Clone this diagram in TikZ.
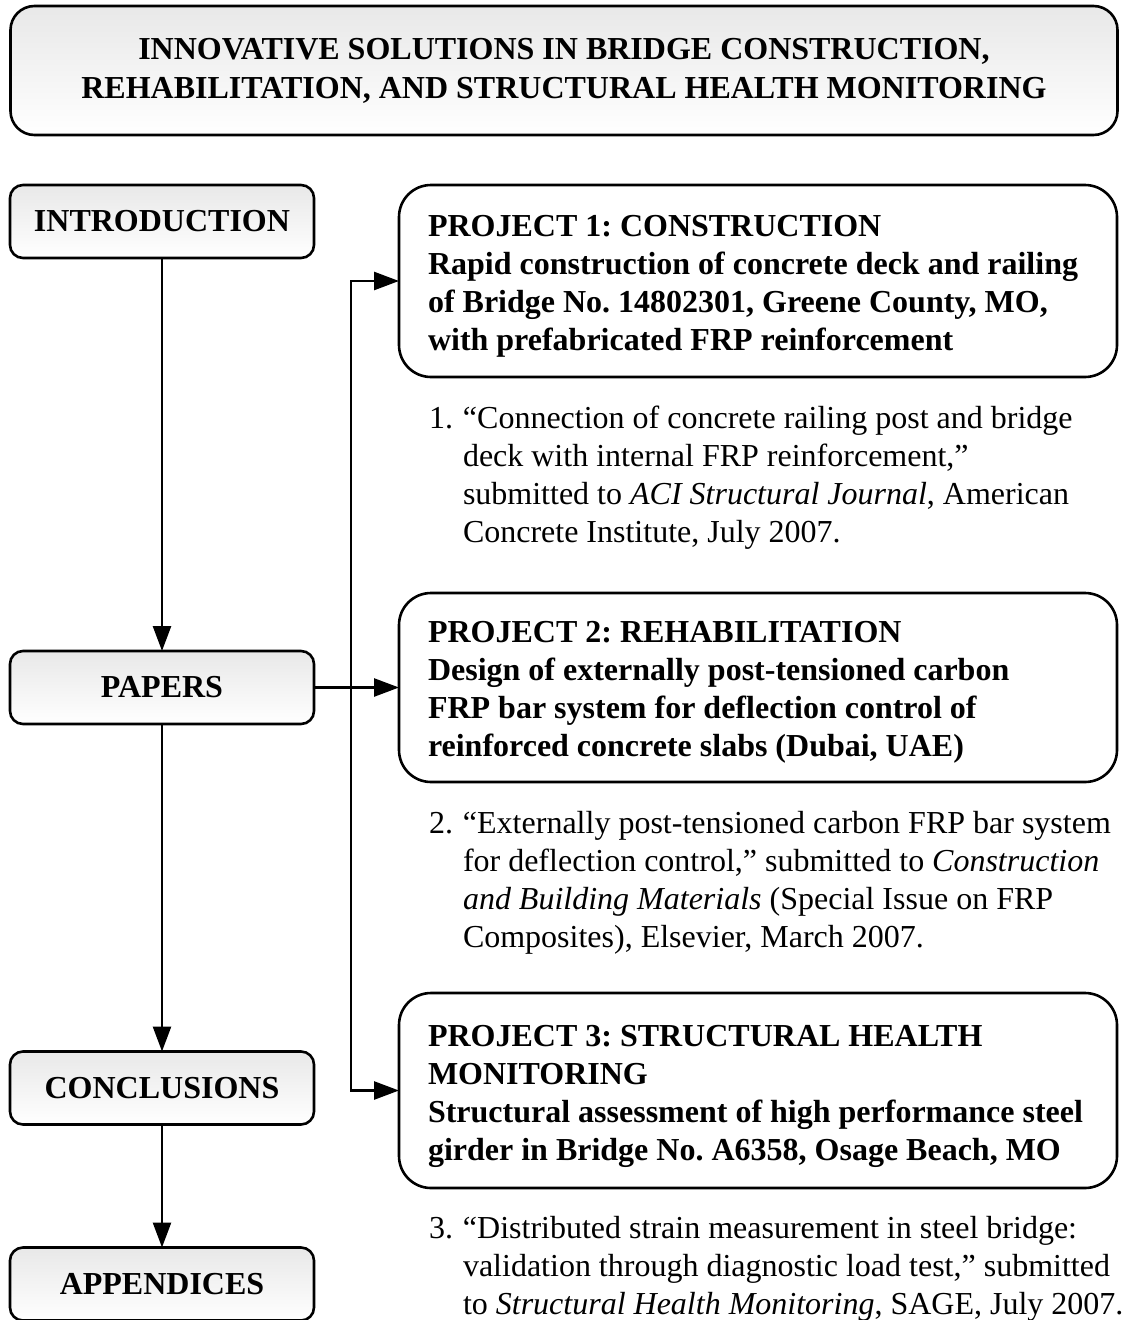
\documentclass[tikz,border=0pt]{standalone}
\usepackage{fontspec}
\setmainfont{Liberation Serif}
\usetikzlibrary{arrows.meta,shadings}
\frenchspacing
\begin{document}
\begin{tikzpicture}[x=1pt,y=-1pt,
  every node/.style={inner sep=0pt,outer sep=0pt},
  gradbox/.style={draw,line width=2.6pt,rounded corners=13pt,top color=black!9,bottom color=white,
    minimum width=304pt,minimum height=73pt,font=\fontsize{32}{38}\selectfont\bfseries},
  titlebox/.style={draw,line width=2.6pt,rounded corners=24pt,top color=black!9,bottom color=white,
    minimum width=1107pt,minimum height=129pt,align=center,font=\fontsize{32}{39}\selectfont\bfseries},
  projbox/.style={draw,line width=2.6pt,rounded corners=32pt,minimum width=718pt},
  projtext/.style={anchor=base west,font=\fontsize{32}{38}\selectfont\bfseries},
  itemtext/.style={anchor=base west,font=\fontsize{32}{38}\selectfont},
  tip/.tip={Triangle[length=25pt,width=18pt]},
  arr/.style={line width=2.6pt,-tip},
  darr/.style={line width=2.6pt,tip-tip}
]
\useasboundingbox (0,0) rectangle (1128,1320);

\node[titlebox] (title) at (564,70.5) {INNOVATIVE SOLUTIONS IN BRIDGE CONSTRUCTION,\\REHABILITATION, AND STRUCTURAL HEALTH MONITORING};

\node[gradbox] (intro) at (162,221.5) {INTRODUCTION};
\node[gradbox] (papers) at (162,687.5) {PAPERS};
\node[gradbox] (concl) at (162,1088) {CONCLUSIONS};
\node[gradbox] (app) at (162,1284) {APPENDICES};

\node[projbox,minimum height=192pt] (p1) at (758,281) {};
\node[projbox,minimum height=189pt] (p2) at (758,687.5) {};
\node[projbox,minimum height=195pt] (p3) at (758,1090.5) {};

\node[projtext] (p1t) at (428,236) {\begin{tabular}[t]{@{}l@{}}PROJECT 1: CONSTRUCTION\\
Rapid construction of concrete deck and railing\\
of Bridge No. 14802301, Greene County, MO,\\
with prefabricated FRP reinforcement\end{tabular}};

\node[projtext] (p2t) at (428,642) {\begin{tabular}[t]{@{}l@{}}PROJECT 2: REHABILITATION\\
Design of externally post-tensioned carbon\\
FRP bar system for deflection control of\\
reinforced concrete slabs (Dubai, UAE)\end{tabular}};

\node[projtext] (p3t) at (428,1046) {\begin{tabular}[t]{@{}l@{}}PROJECT 3: STRUCTURAL HEALTH\\
MONITORING\\
Structural assessment of high performance steel\\
girder in Bridge No. A6358, Osage Beach, MO\end{tabular}};

\node[itemtext] (i1) at (429,428) {\begin{tabular}[t]{@{}p{34pt}@{}l@{}}1.&“Connection of concrete railing post and bridge\\
&deck with internal FRP reinforcement,”\\
&submitted to \textit{ACI Structural Journal}, American\\
&Concrete Institute, July 2007.\end{tabular}};

\node[itemtext] (i2) at (429,833) {\begin{tabular}[t]{@{}p{34pt}@{}l@{}}2.&“Externally post-tensioned carbon FRP bar system\\
&for deflection control,” submitted to \textit{Construction}\\
&\textit{and Building Materials} (Special Issue on FRP\\
&Composites), Elsevier, March 2007.\end{tabular}};

\node[itemtext] (i3) at (429,1238) {\begin{tabular}[t]{@{}p{34pt}@{}l@{}}3.&“Distributed strain measurement in steel bridge:\\
&validation through diagnostic load test,” submitted\\
&to \textit{Structural Health Monitoring}, SAGE, July 2007.\end{tabular}};

\draw[arr] (intro.south) -- (papers.north);
\draw[arr] (papers.south) -- (concl.north);
\draw[arr] (concl.south) -- (app.north);

\coordinate (bus) at (351,0);
\draw[darr] (p1.west) -- (p1.west -| bus) -- (p3.west -| bus) -- (p3.west);
\draw[arr] (papers.east) -- (p2.west |- papers.east);
\end{tikzpicture}
\end{document}
